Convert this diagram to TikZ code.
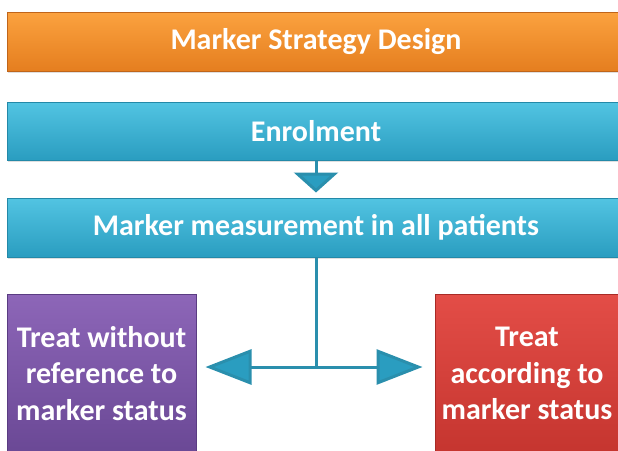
\documentclass[tikz,border=0pt]{standalone}
\usepackage{fontspec}
\setmainfont{Carlito}
\usetikzlibrary{arrows.meta,shadows}
\definecolor{orT}{HTML}{FBA23F}
\definecolor{orB}{HTML}{E57E1F}
\definecolor{orD}{HTML}{C0651A}
\definecolor{tlT}{HTML}{52C4E2}
\definecolor{tlB}{HTML}{2A9DC0}
\definecolor{tlD}{HTML}{2389A8}
\definecolor{puT}{HTML}{8D66B8}
\definecolor{puB}{HTML}{6A4895}
\definecolor{puD}{HTML}{5A3C82}
\definecolor{rdT}{HTML}{E34D47}
\definecolor{rdB}{HTML}{C5352F}
\definecolor{rdD}{HTML}{A82B26}
\definecolor{ln}{HTML}{2A8FAD}
\begin{document}
\begin{tikzpicture}[x=1pt,y=-1pt,
  box/.style={rectangle, inner sep=0pt, text=white, align=center,
    line width=1pt, drop shadow={opacity=0.25,shadow xshift=1pt,shadow yshift=-2pt},
    font=\bfseries\fontsize{30}{36.5}\selectfont},
  orbox/.style={box, top color=orT, bottom color=orB, draw=orD},
  tlbox/.style={box, top color=tlT, bottom color=tlB, draw=tlD},
  pubox/.style={box, top color=puT, bottom color=puB, draw=puD},
  rdbox/.style={box, top color=rdT, bottom color=rdB, draw=rdD},
  conn/.style={draw=ln, line width=3pt},
  vtip/.style={-{Triangle[width=44pt,length=20pt,fill=tlB]}},
  htip/.style={-{Triangle[width=35pt,length=46pt,fill=tlB]}}
]
\useasboundingbox (0,0) rectangle (618,450);
\clip (0,0) rectangle (618,450);
\node[orbox, minimum width=618pt, minimum height=59pt] (title) at (316,41.5) {Marker Strategy Design};
\node[tlbox, minimum width=618pt, minimum height=58pt] (enrol) at (316,131) {Enrolment};
\node[tlbox, minimum width=618pt, minimum height=59pt] (meas) at (316,227.5) {Marker measurement in all patients};
\node[pubox, minimum width=189pt, minimum height=159pt] (left) at (101.5,373.5) {Treat without\\reference to\\marker status};
\node[rdbox, minimum width=184pt, minimum height=159pt] (right) at (527,373.5) {Treat\\according to\\marker status};
\coordinate (junc) at (316,367);
\draw[conn, vtip, shorten >=5pt] (enrol.south) -- (meas.north);
\draw[conn] (meas.south) -- (junc);
\draw[conn, htip, shorten >=9pt] (junc) -- (left.east |- junc);
\draw[conn, htip, shorten >=12pt] (junc) -- (right.west |- junc);
\end{tikzpicture}
\end{document}
